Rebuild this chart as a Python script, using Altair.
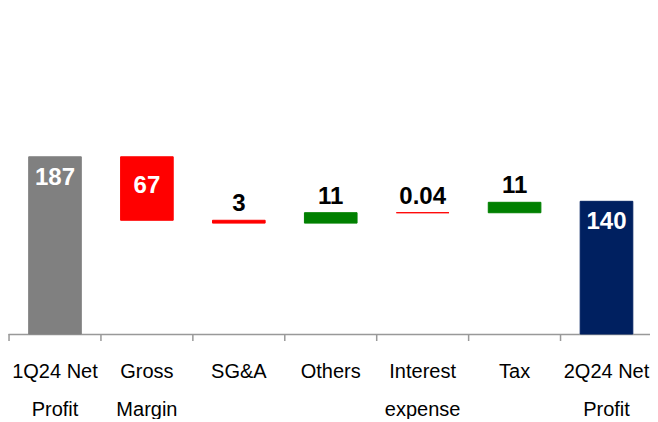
import altair as alt
import pandas as pd

categories = ["1Q24 Net|Profit", "Gross|Margin", "SG&A", "Others", "Interest|expense", "Tax", "2Q24 Net|Profit"]
values = [187, -67, -3, 11, -0.04, 11, 140]
labels = ["187", "67", "3", "11", "0.04", "11", "140"]
kinds = ["start", "neg", "neg", "pos", "neg", "pos", "end"]

rows = []
running = 0.0
for cat, v, lab, k in zip(categories, values, labels, kinds):
    if k in ("start", "end"):
        lo, hi = 0.0, v
        running = v
    else:
        lo = running
        hi = running + v
        running = hi
    rows.append({"cat": cat, "lo": lo, "hi": hi, "top": max(lo, hi), "label": lab, "kind": k,
                 "inside": k in ("start", "end") or abs(v) > 50})
df = pd.DataFrame(rows)

color_scale = alt.Scale(domain=["start", "neg", "pos", "end"],
                        range=["#808080", "#FF0000", "#008000", "#002060"])

PI = 0.4275
xscale = alt.Scale(paddingInner=PI, paddingOuter=0.206, align=0.546)
xaxis = alt.Axis(labelExpr="split(datum.label, '|')", labelAngle=0,
                 labelFont="Liberation Sans", labelFontSize=20, labelColor="#000000",
                 labelLineHeight=38, labelPadding=22,
                 tickSize=5, tickOpacity=0,
                 domainColor="#999999", domainWidth=1.5, labelBaseline="top")
x = alt.X("cat:N", sort=categories, title=None, scale=xscale, axis=xaxis)
x_edge = alt.X("cat:N", sort=categories, title=None, scale=xscale, axis=xaxis, bandPosition=0)

yscale = alt.Scale(domain=[0, 344], nice=False, zero=True)
y = alt.Y("lo:Q", scale=yscale, axis=None)
ytop = alt.Y("top:Q", scale=yscale, axis=None)

W, H = 642, 326
step = W / (len(categories) - PI + 2 * 0.206)

base = alt.Chart(df)

bars = base.mark_bar(strokeWidth=1).encode(
    x=x, y=y, y2="hi:Q",
    color=alt.Color("kind:N", scale=color_scale, legend=None),
    stroke=alt.Color("kind:N", scale=color_scale, legend=None),
)

ticks = base.mark_rule(color="#999999", strokeWidth=1.5, xOffset=-PI * step / 2).encode(
    x=x_edge, y=alt.value(H), y2=alt.value(H + 7))

inside = base.transform_filter("datum.inside && datum.kind != 'neg'").mark_text(
    font="Liberation Sans", fontSize=24, fontWeight="bold", color="white",
    baseline="alphabetic", dy=28).encode(x=x, y=ytop, text="label:N")

inside_neg = base.transform_filter("datum.inside && datum.kind == 'neg'").mark_text(
    font="Liberation Sans", fontSize=24, fontWeight="bold", color="white",
    baseline="alphabetic", dy=36).encode(x=x, y=ytop, text="label:N")

outside = base.transform_filter("!datum.inside").mark_text(
    font="Liberation Sans", fontSize=24, fontWeight="bold", color="black",
    baseline="alphabetic", dy=-9).encode(x=x, y=ytop, text="label:N")

chart = alt.layer(bars, ticks, inside, inside_neg, outside).properties(
    width=W, height=H, padding=0
).configure(background="white").configure_view(stroke=None, strokeWidth=0)

chart.save("out.html", embed_options={"renderer": "svg", "actions": False})
